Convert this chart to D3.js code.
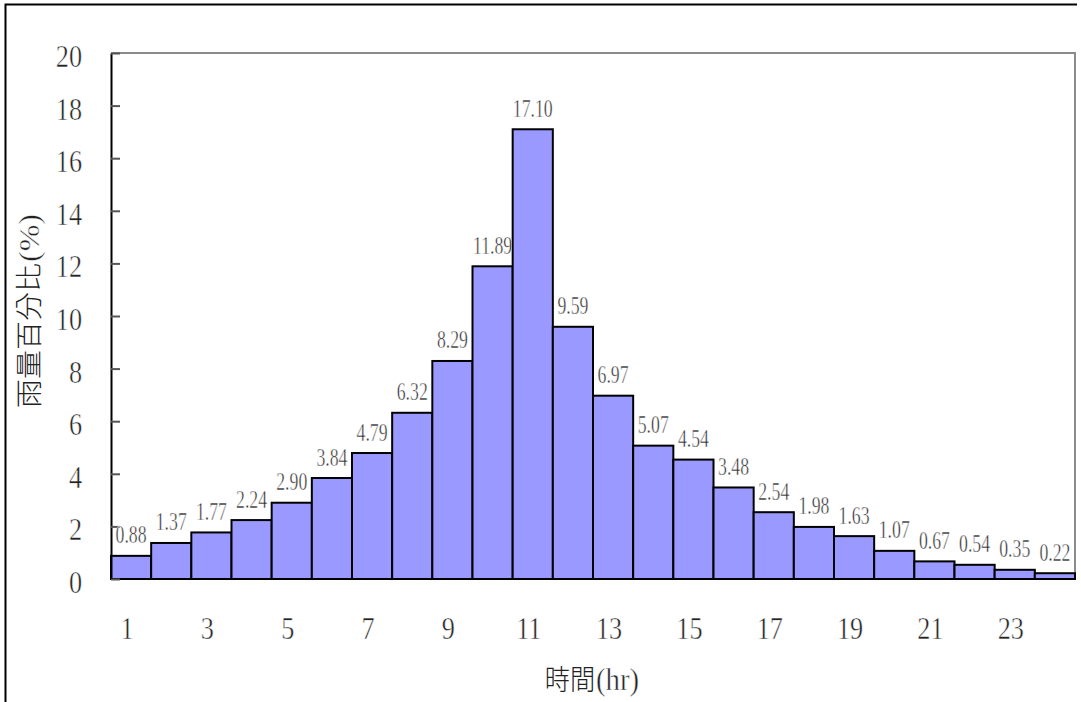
<!DOCTYPE html>
<html>
<head>
<meta charset="utf-8">
<script src="https://cdn.jsdelivr.net/npm/d3@7"></script>
<style>
  html, body { margin: 0; padding: 0; background: #fff; }
  svg { display: block; }
  .thin { stroke: #fff; stroke-width: 0.5px; paint-order: fill; }
</style>
</head>
<body>
<svg id="chart" width="1081" height="702"></svg>
<script>
// Hourly share of rainfall (%), hours 1-24
const hours = d3.range(1, 25);
const rainShare = [0.88, 1.37, 1.77, 2.24, 2.90, 3.84, 4.79, 6.32, 8.29, 11.89, 17.10, 9.59,
                   6.97, 5.07, 4.54, 3.48, 2.54, 1.98, 1.63, 1.07, 0.67, 0.54, 0.35, 0.22];
const yTicks = [0, 2, 4, 6, 8, 10, 12, 14, 16, 18, 20];
const xTickLabels = [1, 3, 5, 7, 9, 11, 13, 15, 17, 19, 21, 23];
const yTitle = "雨量百分比";
const xTitle = "時間";

const svg = d3.select("#chart");
const plotLeft = 111, plotRight = 1075, plotTop = 53, plotBottom = 579;
const serif = "'Liberation Serif', 'Times New Roman', serif";
const cjk = "'Noto Sans CJK TC', 'Noto Sans CJK SC', sans-serif";
const ink = "#222";

const x = d3.scaleBand().domain(hours).range([plotLeft, plotRight]).padding(0);
const y = d3.scaleLinear().domain([0, 20]).range([plotBottom, plotTop]);

// outer frame (left and top edges)
svg.append("path")
  .attr("d", `M5.5,702 L5.5,4.5 L1077,4.5`)
  .attr("fill", "none").attr("stroke", "#000").attr("stroke-width", 2);

// plot area border: top, right, bottom
svg.append("path")
  .attr("d", `M${plotLeft},${plotTop} L${plotRight},${plotTop} L${plotRight},${plotBottom} L${plotLeft},${plotBottom}`)
  .attr("fill", "none").attr("stroke", "#8c8c8c").attr("stroke-width", 2);

// bars
svg.append("g").selectAll("rect")
  .data(hours)
  .join("rect")
  .attr("x", d => x(d))
  .attr("y", (d, i) => y(rainShare[i]))
  .attr("width", x.bandwidth())
  .attr("height", (d, i) => y(0) - y(rainShare[i]))
  .attr("fill", "#9999ff")
  .attr("stroke", "#000")
  .attr("stroke-width", 2);

// y axis with inward ticks
const yAxis = d3.axisLeft(y).tickValues(yTicks).tickSizeInner(-9).tickSizeOuter(0).tickFormat("");
const gy = svg.append("g").attr("transform", `translate(${plotLeft},0)`).call(yAxis);
gy.select(".domain").attr("stroke", "#000").attr("stroke-width", 2);
gy.selectAll(".tick line").attr("stroke", "#555").attr("stroke-width", 2);

// y tick labels
svg.append("g").selectAll("text")
  .data(yTicks)
  .join("text")
  .attr("class", "thin")
  .attr("transform", d => `translate(82,${y(d) + 14}) scale(0.82,1)`)
  .attr("text-anchor", "end")
  .attr("font-family", serif)
  .attr("font-size", 32)
  .attr("fill", ink)
  .text(d => d);

// x tick labels
svg.append("g").selectAll("text")
  .data(xTickLabels)
  .join("text")
  .attr("class", "thin")
  .attr("transform", d => `translate(${x(d) + x.bandwidth() / 2 - 4},639) scale(0.82,1)`)
  .attr("text-anchor", "middle")
  .attr("font-family", serif)
  .attr("font-size", 32)
  .attr("fill", ink)
  .text(d => d);

// value labels above bars
svg.append("g").selectAll("text")
  .data(hours)
  .join("text")
  .attr("class", "thin")
  .attr("transform", (d, i) => `translate(${x(d) + x.bandwidth() / 2},${y(rainShare[i]) - 12.5}) scale(0.71,1)`)
  .attr("text-anchor", "middle")
  .attr("font-family", serif)
  .attr("font-size", 25)
  .attr("fill", "#2a2a2a")
  .text((d, i) => rainShare[i].toFixed(2));

// x axis title
const xt = svg.append("text")
  .attr("transform", "translate(592,690) scale(0.9,1)")
  .attr("text-anchor", "middle")
  .attr("fill", ink);
xt.append("tspan").attr("font-family", cjk).attr("font-weight", 300).attr("font-size", 28).text(xTitle);
xt.append("tspan").attr("class", "thin").attr("font-family", serif).attr("font-size", 32).attr("dx", 1).text("(hr)");

// y axis title (rotated)
const yt = svg.append("text")
  .attr("transform", "translate(39,311) rotate(-90) scale(1,0.95)")
  .attr("text-anchor", "middle")
  .attr("fill", ink);
yt.append("tspan").attr("font-family", cjk).attr("font-weight", 300).attr("font-size", 29).text(yTitle);
yt.append("tspan").attr("class", "thin").attr("font-family", serif).attr("font-size", 32).attr("dx", 1).text("(%)");
</script>
</body>
</html>
